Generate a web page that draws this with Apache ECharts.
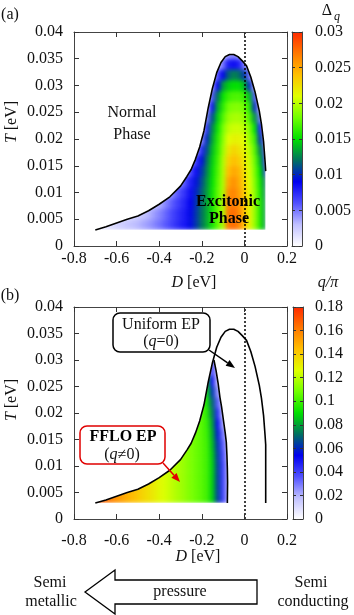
<!DOCTYPE html>
<html lang="en">
<head>
<meta charset="utf-8">
<style>
  html, body { margin: 0; padding: 0; background: #fff; }
  #wrap { position: relative; width: 354px; height: 615px; }
  #field, #chart { position: absolute; left: 0; top: 0; width: 354px; height: 615px; }
  #field { filter: blur(2.2px); }
</style>
</head>
<body>
<div id="wrap">
  <div id="field"></div>
  <div id="chart"></div>
</div>
<script src="https://cdn.jsdelivr.net/npm/echarts@6.0.0/dist/echarts.min.js"></script>
<script>
// ---- data ----
// (a) phase boundary T_c(D) [eV]
const tcD = [-0.70, -0.65, -0.60, -0.55, -0.50, -0.45, -0.40, -0.35, -0.30, -0.27, -0.25, -0.23, -0.21, -0.19, -0.17, -0.15,
             -0.13, -0.11, -0.09, -0.07, -0.05, -0.03, -0.01, 0.01, 0.03, 0.05, 0.07, 0.08, 0.09, 0.097, 0.10];
const tcT = [0.0030, 0.0036, 0.0043, 0.0050, 0.0056, 0.0066, 0.0078, 0.0092, 0.0112, 0.0130, 0.0143, 0.0162, 0.0185, 0.0215, 0.0258, 0.0295,
             0.0324, 0.0343, 0.0354, 0.0358, 0.0358, 0.0354, 0.0346, 0.0337, 0.0316, 0.0288, 0.0252, 0.0228, 0.0195, 0.0158, 0.0140];
// (b) right edge of the FFLO region, from its tip downwards
const ffD = [-0.143, -0.133, -0.123, -0.115, -0.107, -0.098, -0.090, -0.085, -0.082, -0.080, -0.079, -0.080];
const ffT = [0.0300, 0.0280, 0.0255, 0.0230, 0.0211, 0.0185, 0.0162, 0.0145, 0.0120, 0.0095, 0.0070, 0.0030];

// colour-map cells: D column centres and T row centres
const gapD = [-0.700, -0.675, -0.650, -0.625, -0.600, -0.575, -0.550, -0.525, -0.500, -0.475, -0.450, -0.425, -0.400, -0.375, -0.350, -0.325, -0.300,
              -0.275, -0.250, -0.225, -0.200, -0.175, -0.150, -0.125, -0.100, -0.075, -0.050, -0.025, 0.000, 0.025, 0.050, 0.075, 0.100];
const qD = [-0.700, -0.675, -0.650, -0.625, -0.600, -0.575, -0.550, -0.525, -0.500, -0.475, -0.450, -0.425, -0.400, -0.375, -0.350, -0.325, -0.300,
            -0.275, -0.250, -0.225, -0.200, -0.175, -0.150, -0.125, -0.100, -0.075];
const cellT = [0.004, 0.006, 0.008, 0.010, 0.012, 0.014, 0.016, 0.018, 0.020, 0.022, 0.024, 0.026, 0.028, 0.030, 0.032, 0.034, 0.036];

// (a) Delta_q in units of 0.001, one list per D column, from T=0.004 upward
const gapCols = [
  [0.4], [0.8], [1.2], [1.6], [2.0],
  [2.3, 1.0], [2.6, 1.3], [2.9, 1.8], [3.2, 2.2],
  [3.6, 2.7, 1.0], [4.0, 3.2, 1.5], [4.5, 3.9, 2.5],
  [5.0, 4.5, 3.3, 1.5], [5.6, 5.2, 4.3, 2.5],
  [6.3, 6.0, 5.3, 3.8, 1.5], [7.0, 6.8, 6.2, 5.2, 3.0],
  [7.7, 7.5, 7.0, 6.3, 4.5, 2.0],
  [8.3, 8.2, 7.9, 7.4, 6.3, 4.0, 1.5],
  [9.3, 9.2, 9.0, 8.6, 8.0, 6.5, 3.5],
  [10.5, 10.5, 10.3, 10.0, 9.5, 8.5, 7.0, 4.0],
  [12.0, 12.0, 11.8, 11.5, 11.0, 10.3, 9.3, 7.5, 4.5, 2.0],
  [13.5, 13.5, 13.4, 13.2, 13.0, 12.5, 12.0, 11.0, 10.0, 7.5, 5.0, 3.0],
  [15.5, 15.5, 15.5, 15.3, 15.0, 14.8, 14.5, 14.0, 13.3, 12.5, 11.0, 8.5, 6.0, 4.0, 2.0],
  [17.5, 17.5, 17.5, 17.5, 17.3, 17.0, 16.7, 16.3, 16.0, 15.3, 14.5, 13.5, 12.0, 9.0, 6.0, 3.0],
  [19.5, 19.5, 19.5, 19.5, 19.5, 19.5, 19.5, 19.0, 18.5, 18.0, 17.0, 16.0, 15.0, 13.0, 9.0, 5.0, 2.0],
  [27.0, 27.0, 26.5, 26.0, 25.0, 24.0, 23.0, 22.0, 21.0, 20.0, 19.0, 18.0, 16.5, 14.5, 11.5, 8.0, 4.0],
  [27.5, 27.5, 27.0, 26.5, 26.0, 25.0, 24.0, 23.0, 21.5, 20.5, 19.5, 18.5, 17.0, 15.0, 12.5, 8.5, 4.5],
  [26.5, 26.5, 26.0, 25.5, 25.0, 24.5, 23.5, 22.5, 21.5, 20.5, 19.5, 18.5, 17.0, 15.0, 12.0, 8.0, 4.0],
  [24.0, 24.0, 24.0, 23.5, 23.0, 22.5, 22.0, 21.5, 21.0, 20.0, 19.0, 18.0, 16.5, 14.0, 10.5, 5.0, 2.0],
  [21.5, 21.5, 21.5, 21.3, 21.0, 20.8, 20.5, 20.0, 19.0, 18.5, 17.0, 16.0, 14.0, 10.0, 5.0, 2.0],
  [19.0, 19.0, 19.0, 18.8, 18.5, 18.2, 17.8, 17.2, 16.5, 15.0, 13.0, 10.0, 6.0, 3.0, 1.5],
  [16.0, 16.0, 16.0, 15.8, 15.5, 15.0, 14.0, 12.5, 10.5, 8.0, 5.0, 2.0],
  [13.0, 13.0, 13.0, 12.5, 12.0, 10.0, 8.0, 6.0, 4.0, 2.0]
];
// (b) q/pi in units of 0.01, one list per D column, from T=0.004 upward
const qCols = [
  [17.0], [16.8], [16.5], [16.0], [15.5],
  [15.2, 15.2], [14.8, 14.8], [14.5, 14.5], [14.2, 14.2],
  [13.8, 13.8, 13.8], [13.5, 13.5, 13.5], [13.2, 13.2, 13.2],
  [12.8, 12.8, 12.8, 12.8], [12.5, 12.5, 12.5, 12.5],
  [12.2, 12.2, 12.2, 12.2, 12.2], [11.9, 11.9, 11.9, 11.9, 11.9],
  [11.6, 11.6, 11.6, 11.6, 11.6, 11.6],
  [11.3, 11.3, 11.3, 11.3, 11.3, 11.3, 11.3],
  [11.0, 11.0, 11.0, 11.0, 11.0, 11.0, 11.0],
  [10.7, 10.7, 10.7, 10.7, 10.7, 10.7, 10.7, 10.7],
  [10.4, 10.4, 10.4, 10.4, 10.4, 10.4, 10.4, 10.4, 10.4, 10.4],
  [10.0, 10.0, 10.0, 10.0, 10.0, 10.0, 9.9, 9.8, 9.6, 9.3, 9.0, 8.5],
  [8.8, 8.8, 8.8, 8.8, 8.7, 8.5, 8.3, 8.0, 7.5, 7.0, 6.2, 5.0, 4.0, 3.0],
  [6.5, 6.5, 6.5, 6.5, 6.4, 6.2, 5.8, 5.2, 4.5, 3.5, 2.5, 1.5, 1.0],
  [4.0, 4.0, 4.0, 4.0, 3.8, 3.5, 3.0, 2.2, 1.5, 1.2],
  [2.0, 2.0, 2.0, 2.0, 1.8, 1.5, 1.5]
];

// ---- drawing ----
const serif = "'Liberation Serif', 'DejaVu Serif', serif";
const ink = '#111';
const palette = ['#ffffff', '#c0c0ff', '#5050ff', '#0000f0', '#007060', '#00e000',
                 '#70ff00', '#e0ff00', '#ffc000', '#ff7800', '#ff2a00'];
const X_MIN = -0.8, X_MAX = 0.2, Y_MAX = 0.04;
const D_STEP = 0.025, T_STEP = 0.002, T_BASE = 0.003, D_LO = -0.7, D_HI = 0.1;
const grids = [
  { left: 74, top: 32, width: 213, height: 214, containLabel: false },
  { left: 74, top: 307, width: 213, height: 212, containLabel: false },
  { left: 292, top: 32, width: 10, height: 214, containLabel: false },
  { left: 293, top: 307, width: 10, height: 212, containLabel: false }
];

function cells(dList, cols, unit) {
  const out = [];
  cols.forEach((col, i) => col.forEach((v, r) => out.push([dList[i], cellT[r], v * unit])));
  return out;
}
function pairs(xs, ys) { return xs.map((x, i) => [x, ys[i]]); }

const tcPts = pairs(tcD, tcT);
const ffPts = pairs(ffD, ffT);
const maskTop = [[X_MIN, Y_MAX], [X_MIN, T_BASE]].concat(tcPts, [[D_HI, T_BASE], [X_MAX, T_BASE], [X_MAX, Y_MAX]]);
const maskBot = [[X_MIN, Y_MAX], [X_MIN, T_BASE]].concat(tcPts.filter(p => p[0] <= -0.15), ffPts, [[X_MAX, T_BASE], [X_MAX, Y_MAX]]);
const maskBase = [[X_MIN, 0], [X_MAX, 0], [X_MAX, T_BASE], [X_MIN, T_BASE]];

function renderCell(params, api) {
  const d = api.value(0), t = api.value(1);
  const a = api.coord([Math.max(d - D_STEP / 2, D_LO), t + T_STEP / 2]);
  const b = api.coord([Math.min(d + D_STEP / 2, D_HI), Math.max(t - T_STEP / 2, T_BASE)]);
  const c = api.visual('color');
  return { type: 'rect', shape: { x: a[0], y: a[1], width: b[0] - a[0], height: b[1] - a[1] },
           style: { fill: c, stroke: c, lineWidth: 0.6 } };
}
function renderMask(pts) {
  return function (params, api) {
    return { type: 'group', children: [pts, maskBase].map(p => ({
      type: 'polygon', shape: { points: p.map(q => api.coord(q)) }, style: { fill: '#fff', stroke: '#fff', lineWidth: 0.5 } })) };
  };
}
function renderBar(max) {
  return function (params, api) {
    const a = api.coord([0, max]), b = api.coord([1, 0]);
    return { type: 'rect', shape: { x: a[0], y: a[1], width: b[0] - a[0], height: b[1] - a[1] },
             style: { fill: new echarts.graphic.LinearGradient(0, 1, 0, 0,
               palette.map((c, i) => ({ offset: i / (palette.length - 1), color: c }))) } };
  };
}

const label = { show: true, fontFamily: serif, fontSize: 16, color: ink };
function axis(extra) {
  return Object.assign({
    type: 'value', z: 5,
    axisLine: { show: true, onZero: false, lineStyle: { color: '#444', width: 1 } },
    axisTick: { show: true, inside: true, length: 5, lineStyle: { color: '#333' } },
    axisLabel: { show: false },
    splitLine: { show: false }
  }, extra);
}
const xMain = { min: X_MIN, max: X_MAX, interval: 0.2 };
const yMain = { min: 0, max: Y_MAX, interval: 0.005 };
const cbTick = { show: true, inside: true, length: 3, lineStyle: { color: '#333' } };

const boundaryStyle = { color: '#000', width: 1.6 };
const dotted = { symbol: 'none', silent: true, label: { show: false },
  lineStyle: { type: [2, 2], color: '#000', width: 1.5 }, data: [{ xAxis: 0 }] };

function txt(x, y, text, extra) {
  return { type: 'text', x: x, y: y, z: 100,
    style: Object.assign({ text: text, fontFamily: serif, fontSize: 16, fill: ink,
      align: 'center', verticalAlign: 'middle' }, extra) };
}
const italic = { i: { fontStyle: 'italic', fontFamily: serif, fontSize: 16, fill: ink } };
function arrow(x1, y1, x2, y2, color) {
  const len = Math.hypot(x2 - x1, y2 - y1), ux = (x2 - x1) / len, uy = (y2 - y1) / len;
  const bx = x2 - 9 * ux, by = y2 - 9 * uy;
  return [
    { type: 'line', z: 100, shape: { x1: x1, y1: y1, x2: bx, y2: by }, style: { stroke: color, lineWidth: 1.5 } },
    { type: 'polygon', z: 100, shape: { points: [[x2, y2], [bx - 3.5 * uy, by + 3.5 * ux], [bx + 3.5 * uy, by - 3.5 * ux]] },
      style: { fill: color } }
  ];
}

const graphics = [
  txt(10, 15, '(a)'),
  txt(10, 296, '(b)'),
  txt(132, 113, 'Normal'),
  txt(132, 135, 'Phase'),
  txt(228, 202, 'Excitonic', { fontWeight: 'bold', fill: '#000' }),
  txt(229, 219, 'Phase', { fontWeight: 'bold', fill: '#000' }),
  Object.assign(txt(12, 122, '{i|T} [eV]', { rich: italic }), { rotation: Math.PI / 2 }),
  Object.assign(txt(12, 400, '{i|T} [eV]', { rich: italic }), { rotation: Math.PI / 2 }),
  txt(194, 283, '{i|D} [eV]', { rich: italic }),
  txt(198, 557, '{i|D} [eV]', { rich: italic }),
  txt(327, 11, 'Δ'),
  txt(337, 17, 'q', { fontStyle: 'italic', fontSize: 12 }),
  txt(328, 283, 'q/π', { fontStyle: 'italic' }),
  { type: 'rect', z: 99, shape: { x: 113, y: 313, width: 97, height: 39, r: 7 },
    style: { fill: '#fff', stroke: '#000', lineWidth: 1.5 } },
  txt(161, 325, 'Uniform EP'),
  txt(161, 342, '({i|q}=0)', { rich: italic }),
  { type: 'rect', z: 99, shape: { x: 80, y: 426, width: 85, height: 38, r: 7 },
    style: { fill: '#fff', stroke: '#e00000', lineWidth: 1.5 } },
  txt(123, 437, 'FFLO EP', { fontWeight: 'bold', fill: '#000' }),
  txt(122, 455, '({i|q}≠0)', { rich: italic }),
  { type: 'polygon', z: 99, shape: { points: [[85, 592], [115, 570], [115, 580], [257, 580], [257, 604], [115, 604], [115, 614]] },
    style: { fill: '#fff', stroke: '#000', lineWidth: 1.3 } },
  txt(180, 592, 'pressure'),
  txt(50, 583, 'Semi'),
  txt(51, 602, 'metallic'),
  txt(311, 583, 'Semi'),
  txt(313, 602, 'conducting')
].concat(arrow(209, 350, 235, 368, '#000'), arrow(163, 463, 180, 482, '#e00000'));

// colour field on its own (softened) layer underneath
const hidden = { type: 'value', show: false };
const field = echarts.init(document.getElementById('field'), null, { renderer: 'canvas' });
field.setOption({
  animation: false,
  grid: grids.slice(0, 2),
  xAxis: [Object.assign({ gridIndex: 0 }, hidden, xMain), Object.assign({ gridIndex: 1 }, hidden, xMain)],
  yAxis: [Object.assign({ gridIndex: 0 }, hidden, yMain), Object.assign({ gridIndex: 1 }, hidden, yMain)],
  visualMap: [
    { type: 'continuous', show: false, seriesIndex: 0, dimension: 2, min: 0, max: 0.03, inRange: { color: palette } },
    { type: 'continuous', show: false, seriesIndex: 1, dimension: 2, min: 0, max: 0.18, inRange: { color: palette } }
  ],
  series: [
    { type: 'custom', xAxisIndex: 0, yAxisIndex: 0, silent: true, renderItem: renderCell,
      encode: { x: 0, y: 1 }, data: cells(gapD, gapCols, 0.001) },
    { type: 'custom', xAxisIndex: 1, yAxisIndex: 1, silent: true, renderItem: renderCell,
      encode: { x: 0, y: 1 }, data: cells(qD, qCols, 0.01) }
  ]
});

const chart = echarts.init(document.getElementById('chart'), null, { renderer: 'canvas' });
chart.setOption({
  animation: false,
  backgroundColor: 'transparent',
  grid: grids,
  xAxis: [
    axis(Object.assign({ gridIndex: 0, position: 'bottom', axisLabel: Object.assign({ margin: 5 }, label) }, xMain)),
    axis(Object.assign({ gridIndex: 0, position: 'top' }, xMain)),
    axis(Object.assign({ gridIndex: 1, position: 'bottom', axisLabel: Object.assign({ margin: 14 }, label) }, xMain)),
    axis(Object.assign({ gridIndex: 1, position: 'top' }, xMain)),
    axis({ gridIndex: 2, position: 'bottom', min: 0, max: 1, axisTick: { show: false } }),
    axis({ gridIndex: 2, position: 'top', min: 0, max: 1, axisTick: { show: false } }),
    axis({ gridIndex: 3, position: 'bottom', min: 0, max: 1, axisTick: { show: false } }),
    axis({ gridIndex: 3, position: 'top', min: 0, max: 1, axisTick: { show: false } })
  ],
  yAxis: [
    axis(Object.assign({ gridIndex: 0, position: 'left', axisLabel: Object.assign({ margin: 11 }, label) }, yMain)),
    axis(Object.assign({ gridIndex: 0, position: 'right' }, yMain)),
    axis(Object.assign({ gridIndex: 1, position: 'left', axisLabel: Object.assign({ margin: 11 }, label) }, yMain)),
    axis(Object.assign({ gridIndex: 1, position: 'right' }, yMain)),
    axis({ gridIndex: 2, position: 'right', min: 0, max: 0.03, interval: 0.005, axisTick: cbTick,
           axisLabel: Object.assign({ margin: 13 }, label) }),
    axis({ gridIndex: 2, position: 'left', min: 0, max: 0.03, interval: 0.005, axisTick: cbTick }),
    axis({ gridIndex: 3, position: 'right', min: 0, max: 0.18, interval: 0.02, axisTick: cbTick,
           axisLabel: Object.assign({ margin: 12 }, label) }),
    axis({ gridIndex: 3, position: 'left', min: 0, max: 0.18, interval: 0.02, axisTick: cbTick })
  ],
  series: [
    { type: 'custom', xAxisIndex: 0, yAxisIndex: 0, z: 2, silent: true, renderItem: renderMask(maskTop),
      encode: { x: 0, y: 1 }, data: [[0, 0]] },
    { type: 'line', xAxisIndex: 0, yAxisIndex: 0, z: 3, symbol: 'none', silent: true,
      lineStyle: boundaryStyle, data: tcPts, markLine: dotted },

    { type: 'custom', xAxisIndex: 2, yAxisIndex: 2, z: 2, silent: true, renderItem: renderMask(maskBot),
      encode: { x: 0, y: 1 }, data: [[0, 0]] },
    { type: 'line', xAxisIndex: 2, yAxisIndex: 2, z: 3, symbol: 'none', silent: true,
      lineStyle: boundaryStyle, data: tcPts.concat([[D_HI, T_BASE]]), markLine: dotted },
    { type: 'line', xAxisIndex: 2, yAxisIndex: 2, z: 3, symbol: 'none', silent: true,
      lineStyle: boundaryStyle, data: ffPts },

    { type: 'custom', xAxisIndex: 4, yAxisIndex: 4, z: 1, silent: true, renderItem: renderBar(0.03),
      encode: { x: 0, y: 1 }, data: [[0, 0]] },
    { type: 'custom', xAxisIndex: 6, yAxisIndex: 6, z: 1, silent: true, renderItem: renderBar(0.18),
      encode: { x: 0, y: 1 }, data: [[0, 0]] }
  ],
  graphic: graphics
});
</script>
</body>
</html>
